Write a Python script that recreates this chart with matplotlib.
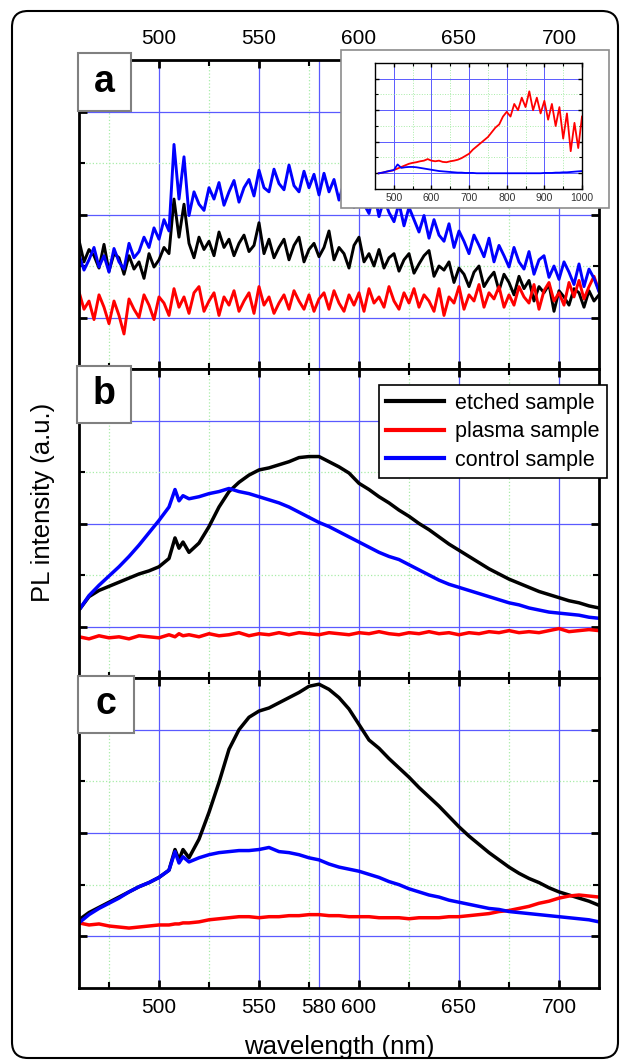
import numpy as np
import matplotlib
matplotlib.use('Agg')
import matplotlib.pyplot as plt
from matplotlib.patches import Rectangle, FancyBboxPatch
from matplotlib.transforms import IdentityTransform

plt.rcParams['font.family'] = ['Liberation Sans', 'DejaVu Sans']

# ---- data ----
# panel a: 2.5 nm steps, 460-720 nm (noisy spectra)
wl_a = np.arange(460, 720.1, 2.5)
etched_a = [125, 104, 116, 110, 98, 121, 95, 112, 108, 92,
            110, 97, 104, 88, 112, 99, 106, 118, 112, 165,
            128, 160, 122, 108, 128, 116, 124, 110, 133, 118,
            126, 110, 122, 130, 114, 120, 142, 112, 126, 108,
            118, 126, 106, 120, 128, 104, 116, 122, 109, 118,
            134, 106, 118, 112, 98, 120, 128, 104, 112, 100,
            116, 98, 108, 112, 95, 106, 112, 93, 102, 110,
            115, 90, 100, 96, 104, 84, 98, 92, 80, 94,
            100, 80, 88, 94, 76, 92, 84, 72, 90, 78,
            86, 66, 80, 74, 82, 56, 76, 70, 62, 78,
            74, 60, 76, 66, 72]
plasma_a = [75, 58, 66, 48, 72, 60, 44, 66, 52, 34,
            68, 58, 50, 72, 62, 48, 70, 64, 52, 78,
            60, 70, 54, 74, 80, 56, 66, 74, 52, 70,
            62, 76, 56, 66, 74, 54, 80, 62, 70, 54,
            64, 72, 58, 76, 66, 58, 72, 56, 68, 74,
            58, 76, 64, 56, 72, 62, 74, 56, 78, 64,
            70, 60, 80, 66, 58, 74, 64, 78, 60, 72,
            66, 56, 78, 52, 70, 64, 80, 58, 72, 66,
            82, 60, 74, 68, 80, 60, 72, 62, 80, 70,
            64, 82, 58, 76, 84, 66, 74, 62, 84, 70,
            86, 68, 80, 90, 76]
control_a = [111, 96, 106, 118, 99, 110, 94, 117, 104, 97,
             122, 108, 114, 128, 118, 137, 126, 145, 134, 218,
             165, 206, 149, 172, 160, 154, 176, 165, 181, 159,
             172, 183, 162, 176, 184, 168, 193, 176, 172, 194,
             180, 174, 198, 178, 172, 192, 176, 189, 169, 190,
             172, 184, 164, 181, 170, 157, 174, 160, 151, 172,
             148, 165, 152, 143, 161, 139, 157, 145, 133, 149,
             127, 145, 130, 124, 141, 118, 134, 124, 112, 130,
             120, 109, 127, 104, 120, 110, 99, 118, 104, 97,
             114, 92, 106, 110, 89, 100, 87, 104, 94, 82,
             102, 80, 97, 88, 75]

# panels b and c
wl_bc = [460, 465, 470, 475, 480, 485, 490, 495, 500, 505, 508, 510, 512,
         515, 520, 525, 530, 535, 540, 545, 550, 555, 560, 565, 570, 575,
         580, 585, 590, 595, 600, 605, 610, 615, 620, 625, 630, 635, 640,
         645, 650, 655, 660, 665, 670, 675, 680, 685, 690, 695, 700, 705,
         710, 715, 720]
etched_b = [66, 79, 85, 89, 93, 97, 101, 104, 108, 116, 136, 126, 132,
            122, 131, 147, 166, 181, 190, 197, 202, 204, 207, 210, 214, 215,
            215, 210, 205, 199, 189, 183, 176, 170, 163, 157, 150, 144, 137,
            130, 124, 118, 112, 106, 101, 96, 92, 88, 84, 81, 78, 75,
            73, 70, 68]
plasma_b = [40, 38, 41, 39, 40, 38, 41, 40, 39, 42, 40, 43, 41,
            42, 40, 43, 41, 42, 44, 41, 43, 42, 44, 42, 44, 43,
            42, 44, 43, 42, 44, 43, 45, 43, 42, 44, 43, 45, 43,
            44, 42, 44, 43, 45, 44, 46, 44, 45, 44, 46, 48, 45,
            46, 47, 46]
control_b = [66, 80, 90, 99, 108, 118, 129, 141, 153, 166, 183, 172, 177,
             174, 176, 179, 181, 184, 181, 179, 176, 173, 170, 166, 161, 156,
             151, 147, 142, 137, 132, 127, 122, 118, 115, 110, 105, 100, 95,
             91, 88, 85, 82, 79, 76, 73, 71, 68, 66, 64, 63, 62,
             61, 59, 58]
etched_c = [66, 73, 78, 83, 88, 93, 98, 102, 107, 114, 134, 124, 134,
            126, 144, 170, 199, 231, 250, 262, 268, 271, 276, 281, 286, 292,
            294, 289, 281, 270, 255, 240, 232, 222, 213, 204, 194, 185, 176,
            166, 156, 147, 139, 131, 124, 117, 111, 106, 102, 97, 93, 90,
            87, 84, 80]
plasma_c = [63, 61, 62, 60, 59, 58, 59, 60, 61, 61, 62, 62, 63,
            63, 64, 66, 67, 68, 69, 69, 68, 69, 69, 70, 70, 71,
            71, 70, 70, 69, 69, 69, 68, 68, 68, 67, 68, 68, 68,
            69, 69, 70, 71, 72, 74, 75, 77, 79, 82, 84, 87, 89,
            90, 89, 88]
control_c = [63, 71, 77, 82, 87, 93, 98, 102, 107, 114, 132, 121, 127,
             122, 126, 129, 131, 132, 133, 133, 134, 136, 132, 131, 129, 126,
             124, 120, 117, 115, 113, 110, 107, 103, 100, 96, 93, 90, 88,
             85, 83, 81, 79, 77, 76, 74, 73, 72, 71, 70, 69, 68,
             67, 66, 64]

# inset of panel a: 460-1000 nm
wl_in = np.arange(460, 1000.1, 10)
plasma_in = [.50, .52, .55, .57, .60, .65, .70, .75, .80, .83,
             .85, .88, .90, .95, .90, .88, .90, .86, .85, .88,
             .90, .93, .98, 1.05, 1.12, 1.25, 1.35, 1.45, 1.55, 1.65,
             1.80, 1.95, 2.05, 2.30, 2.45, 2.30, 2.70, 2.50, 2.90, 2.60,
             3.10, 2.50, 2.90, 2.40, 2.80, 2.20, 2.70, 2.00, 2.60, 1.60,
             2.40, 1.20, 2.10, 1.30, 2.30]
control_in = [.50, .52, .55, .58, .60, .78, .67, .69, .70, .70,
              .69, .67, .65, .63, .61, .59, .57, .56, .55, .54,
              .53, .52, .52, .51, .51, .51, .50, .50, .50, .50,
              .50, .50, .50, .50, .50, .50, .50, .50, .50, .50,
              .50, .50, .50, .50, .51, .51, .51, .52, .52, .53,
              .53, .54, .55, .56, .57]

labels = ['etched sample', 'plasma sample', 'control sample']
colors = ['#000000', '#ff0000', '#0000ff']

W, H = 624, 1064
fig = plt.figure(figsize=(W / 100, H / 100), dpi=100)


def fr(x0, y0, x1, y1):
    return [x0 / W, 1 - y1 / H, (x1 - x0) / W, (y1 - y0) / H]


GRID_BLUE = '#5a5aff'
GRID_GREEN = '#a8eca8'


def style_main(ax):
    ax.set_xlim(460, 720)
    ax.set_ylim(0, 300)
    for x in [500, 550, 580, 600, 650, 700]:
        ax.axvline(x, color=GRID_BLUE, lw=0.9, zorder=0)
    for x in [475, 525, 575, 625, 675]:
        ax.axvline(x, color=GRID_GREEN, lw=0.9, ls=':', zorder=0)
    for y in [50, 150, 250]:
        ax.axhline(y, color=GRID_BLUE, lw=0.9, zorder=0)
    for y in [100, 200]:
        ax.axhline(y, color=GRID_GREEN, lw=0.9, ls=':', zorder=0)
    ax.set_xticks([500, 550, 600, 650, 700])
    ax.set_xticks([475, 525, 575, 625, 675], minor=True)
    ax.set_yticks([50, 150, 250])
    ax.set_yticks([100, 200], minor=True)
    ax.tick_params(which='both', direction='in', top=True, right=True,
                   labelleft=False, labelbottom=False, labelsize=15)
    ax.tick_params(which='major', length=6, width=2)
    ax.tick_params(which='minor', length=4, width=1.5)
    for s in ax.spines.values():
        s.set_linewidth(2)


ax_a = fig.add_axes(fr(79, 60, 599, 369))
ax_b = fig.add_axes(fr(79, 369, 599, 678))
ax_c = fig.add_axes(fr(79, 678, 599, 988))
for ax in (ax_a, ax_b, ax_c):
    style_main(ax)

# panel a
for ys, c in zip([etched_a, plasma_a, control_a], colors):
    ax_a.plot(wl_a, ys, color=c, lw=2.1)
ax_a.tick_params(which='major', labeltop=True, pad=9)

# panel b
lines = []
for ys, c, lab in zip([etched_b, plasma_b, control_b], colors, labels):
    ln, = ax_b.plot(wl_bc, ys, color=c, lw=2.5, label=lab)
    lines.append(ln)

# panel c
for ys, c in zip([etched_c, plasma_c, control_c], colors):
    ax_c.plot(wl_bc, ys, color=c, lw=2.5)
ax_c.set_xticks([500, 550, 580, 600, 650, 700])
ax_c.tick_params(which='major', labelbottom=True, pad=7)
t580 = ax_c.xaxis.get_major_ticks()[2]
t580.tick1line.set_visible(False)
t580.tick2line.set_visible(False)

# legend
leg = ax_b.legend(handles=lines, loc='upper right',
                  bbox_to_anchor=(607 / W, 1 - 385 / H),
                  bbox_transform=fig.transFigure, borderaxespad=0,
                  fancybox=False, edgecolor='black', framealpha=1,
                  fontsize=15.5, handlelength=2.7, handletextpad=0.5,
                  labelspacing=0.35, borderpad=0.35)
leg.get_frame().set_linewidth(1.2)
for h in leg.get_lines():
    h.set_linewidth(3)
leg.set_zorder(10)

# inset
fig.add_artist(Rectangle((341 / W, 1 - 208 / H), 268 / W, 158 / H,
                         transform=fig.transFigure, facecolor='white',
                         edgecolor='#8c8c8c', lw=1.2, zorder=4))
ax_in = fig.add_axes(fr(375, 63, 582, 189), zorder=5)
ax_in.set_xlim(450, 1000)
ax_in.set_ylim(0, 4)
for x in range(500, 1001, 100):
    ax_in.axvline(x, color=GRID_BLUE, lw=0.7, zorder=0)
for x in range(550, 1000, 100):
    ax_in.axvline(x, color=GRID_GREEN, lw=0.7, ls=':', zorder=0)
for y in [0.5, 1.5, 2.5, 3.5]:
    ax_in.axhline(y, color=GRID_BLUE, lw=0.7, zorder=0)
for y in [1, 2, 3]:
    ax_in.axhline(y, color=GRID_GREEN, lw=0.7, ls=':', zorder=0)
ax_in.plot(wl_in, plasma_in, color='#ff0000', lw=1.3)
ax_in.plot(wl_in, control_in, color='#0000ff', lw=1.3)
ax_in.set_xticks(range(500, 1001, 100))
ax_in.set_xticks(range(550, 1000, 100), minor=True)
ax_in.set_yticks([0.5, 1.5, 2.5, 3.5])
ax_in.set_yticks([1, 2, 3], minor=True)
ax_in.tick_params(which='both', direction='in', top=True, right=True,
                  labelleft=False, labelsize=7.5, labelcolor='#333333', pad=3)
ax_in.tick_params(which='major', length=3, width=1)
ax_in.tick_params(which='minor', length=2, width=0.8)
for s in ax_in.spines.values():
    s.set_linewidth(1)

# panel letter boxes
for (x0, y0, x1, y1), letter in zip([(78, 53, 131, 111), (77, 366, 131, 423),
                                      (78, 676, 134, 733)], 'abc'):
    fig.add_artist(Rectangle((x0 / W, 1 - y1 / H), (x1 - x0) / W, (y1 - y0) / H,
                             transform=fig.transFigure, facecolor='white',
                             edgecolor='#808080', lw=1.5, zorder=8))
    fig.text((x0 + x1) / 2 / W, 1 - (y0 + y1) / 2 / H, letter, fontsize=27,
             fontweight='bold', ha='center', va='center', zorder=9)

# axis labels
fig.text(43 / W, 1 - 502 / H, 'PL intensity (a.u.)', rotation=90,
         ha='center', va='center', fontsize=18.5)
fig.text(339 / W, 1 - 1047 / H, 'wavelength (nm)', ha='center',
         va='center', fontsize=18.5)

# outer rounded frame
fig.add_artist(FancyBboxPatch((12, H - 1058), 606, 1047,
                              boxstyle='round,pad=0,rounding_size=16',
                              transform=IdentityTransform(), facecolor='none',
                              edgecolor='black', lw=1.5, zorder=20))

fig.savefig('out.png', dpi=100)
